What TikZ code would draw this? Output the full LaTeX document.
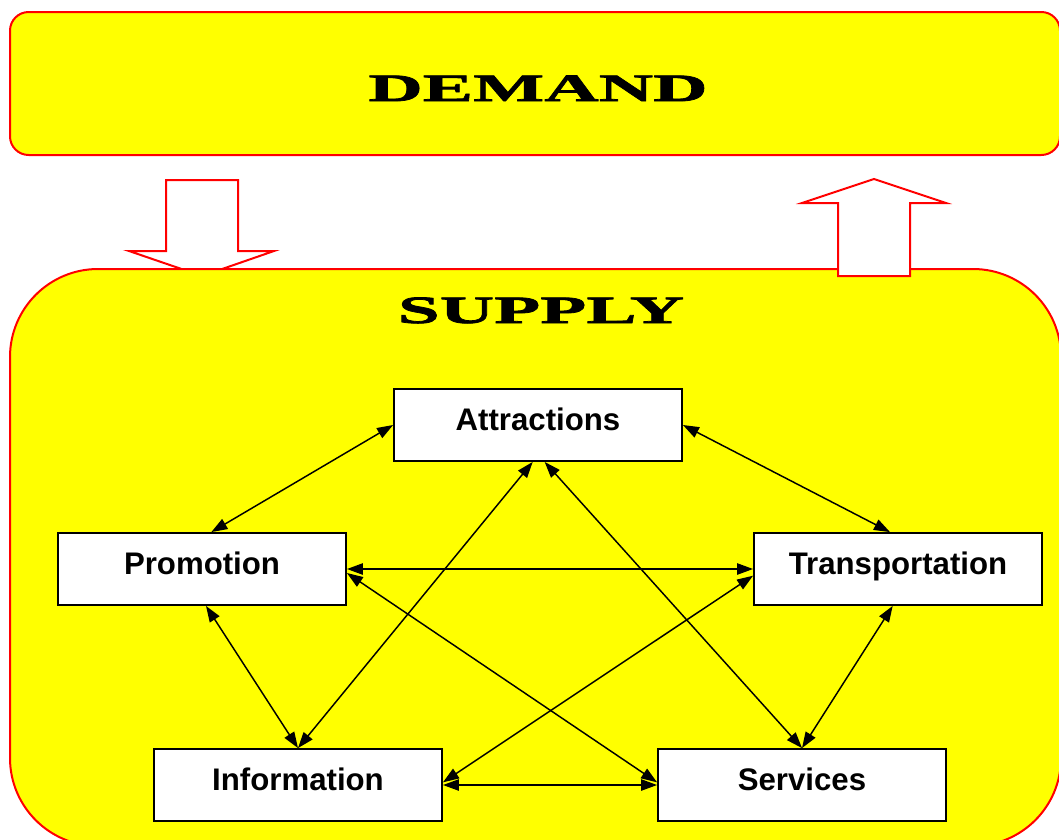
\documentclass[tikz,border=0pt]{standalone}
\usepackage{fontspec}
\usetikzlibrary{arrows.meta}
\newfontfamily\titlefont[FakeStretch=1.95,FakeBold=2]{Liberation Serif}
\newfontfamily\boxfont{Liberation Sans}
\definecolor{jaune}{RGB}{255,255,0}
\definecolor{rouge}{RGB}{255,0,0}

\begin{document}
\begin{tikzpicture}[x=0.75pt,y=-0.75pt,
    bloc/.style={draw, line width=1.4pt, fill=white, minimum width=216pt,
      inner ysep=0pt, text height=30.75pt, text depth=23.25pt,
      font=\boxfont\fontsize{23.4}{26}\selectfont\bfseries},
    titre/.style={anchor=base, font=\titlefont\fontsize{29}{30}\selectfont\bfseries},
    cadre/.style={draw=rouge, line width=1.5pt},
    >={Triangle[length=12pt,width=8.5pt]}]
    \useasboundingbox (0,0) rectangle (1059,839);
    % demande
    \filldraw[cadre, fill=jaune, rounded corners=14pt] (10,12) rectangle (1060,155);
    \node[titre] (demand) at (538,101) {DEMAND};
    % flèche vers le bas
    \filldraw[cadre, fill=white] (166,180) -- (238,180) -- (238,251) -- (274,251)
        -- (202,276) -- (129,251) -- (166,251) -- cycle;
    % offre
    \filldraw[cadre, fill=jaune, rounded corners=66pt] (10,269) rectangle (1061,846);
    % flèche vers le haut
    \filldraw[cadre, fill=white] (874,179) -- (946,203) -- (910,203) -- (910,276)
        -- (838,276) -- (838,203) -- (802,203) -- cycle;
    \node[titre] (supply) at (541,323) {SUPPLY};
    % les cinq blocs
    \node[bloc] (attr) at (538,425) {Attractions};
    \node[bloc] (promo) at (202,569) {Promotion};
    \node[bloc] (trans) at (898,569) {Transportation};
    \node[bloc] (info) at (298,785) {Information};
    \node[bloc] (serv) at (802,785) {Services};
\begin{scope}[line width=1.1pt, <->]
    \draw (attr.west) -- ([xshift=7pt]promo.north);
    \draw (attr.east) -- ([xshift=-6pt]trans.north);
    \draw ([xshift=-4pt]attr.south) -- (info.north);
    \draw ([xshift=5pt]attr.south) -- (serv.north);
    \draw (promo.east) -- (trans.west);
    \draw ([yshift=-3pt]promo.east) -- ([yshift=2pt]serv.west);
    \draw ([yshift=-5pt]trans.west) -- ([yshift=2pt]info.east);
    \draw ([xshift=3pt]promo.south) -- (info.north);
    \draw ([xshift=-4pt]trans.south) -- (serv.north);
    \draw (info.east) -- (serv.west);
\end{scope}
\end{tikzpicture}
\end{document}
